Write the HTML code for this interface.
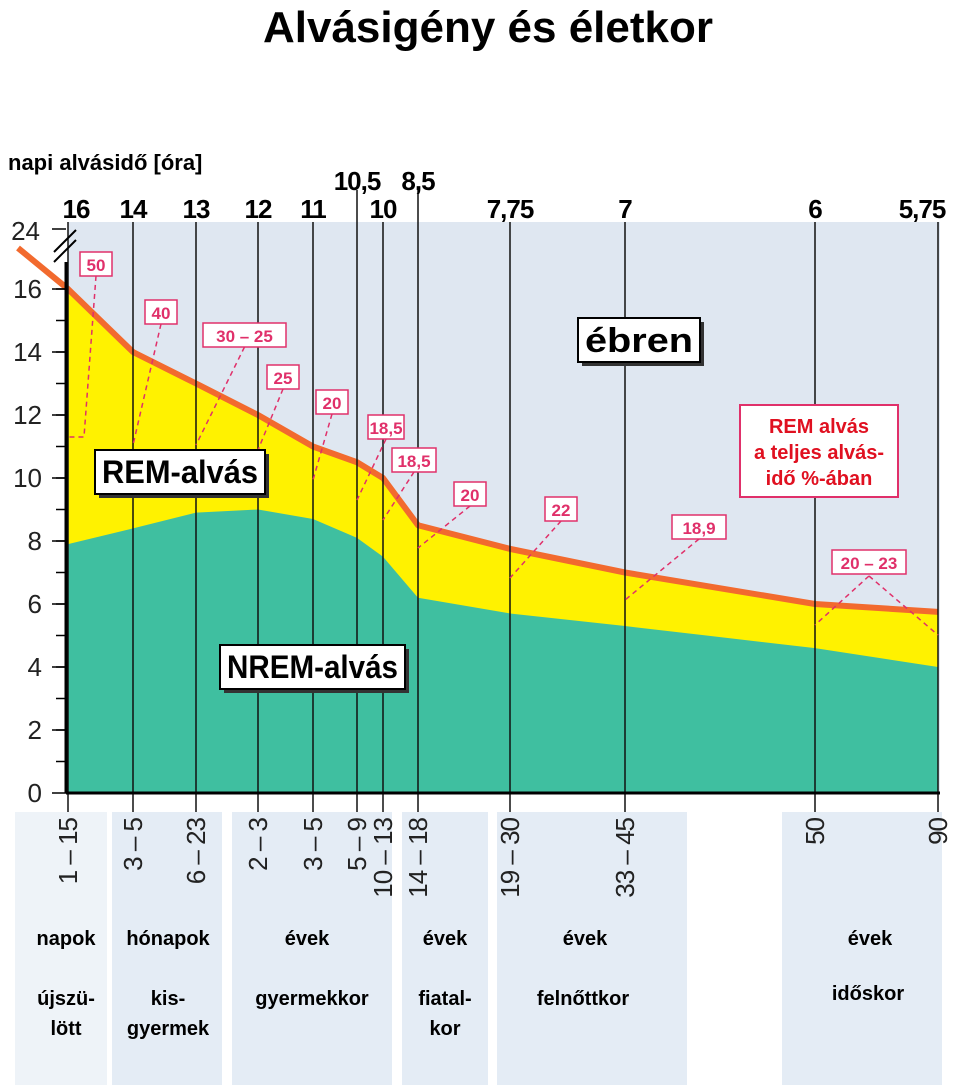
<!DOCTYPE html>
<html><head><meta charset="utf-8"><style>
body{margin:0;background:#fff;}
svg{display:block;font-family:"Liberation Sans",sans-serif;}
</style></head><body>
<svg id="chart" width="960" height="1092" viewBox="0 0 960 1092">
<text x="488" y="42" text-anchor="middle" font-size="44" font-weight="bold">Alvásigény és életkor</text>
<text x="8" y="170" font-size="22" font-weight="bold">napi alvásidő [óra]</text>
<rect x="68" y="222" width="872" height="572" fill="#dfe7f1"/>
<g>
<rect x="15" y="812" width="92" height="273" fill="#eef3f8"/>
<rect x="112" y="812" width="110" height="273" fill="#e4ecf5"/>
<rect x="232" y="812" width="160" height="273" fill="#e4ecf5"/>
<rect x="402" y="812" width="86" height="273" fill="#e4ecf5"/>
<rect x="497" y="812" width="190" height="273" fill="#e4ecf5"/>
<rect x="782" y="812" width="160" height="273" fill="#e4ecf5"/>
</g>
<g id="areas"></g>
<g id="vlines"></g>
<g id="yaxis"></g>
<g id="toplabels"></g>
<g id="xlabels"></g>
<g id="annot"></g>
<g font-size="20" font-weight="bold" text-anchor="middle">
<text x="66" y="945">napok</text><text x="168" y="945">hónapok</text><text x="307" y="945">évek</text><text x="445" y="945">évek</text><text x="585" y="945">évek</text><text x="870" y="945">évek</text>
<text x="66" y="1005">újszü-</text><text x="66" y="1035">lött</text>
<text x="168" y="1005">kis-</text><text x="168" y="1035">gyermek</text>
<text x="312" y="1005">gyermekkor</text>
<text x="445" y="1005">fiatal-</text><text x="445" y="1035">kor</text>
<text x="583" y="1005">felnőttkor</text>
<text x="868" y="1000">időskor</text>
</g>
<script>
const categories=["1 – 15","3 – 5","6 – 23","2 – 3","3 – 5","5 – 9","10 – 13","14 – 18","19 – 30","33 – 45","50","90"];
const totalSleep=[16,14,13,12,11,10.5,10,8.5,7.75,7,6,5.75];
const nremSleep=[7.9,8.4,8.9,9.0,8.7,8.1,7.5,6.2,5.7,5.3,4.6,4.0];
const topLabels=["16","14","13","12","11","10,5","10","8,5","7,75","7","6","5,75"];
const remPct=["50","40","30 – 25","25","20","18,5","18,5","20","22","18,9","20 – 23"];
const yTicks=[0,2,4,6,8,10,12,14,16];
const catX=[68,133,196,258,313,357,383,418,510,625,815,938];
const NS="http://www.w3.org/2000/svg";
function y(v){return 793-v*31.5;}
function x(i){return catX[i];}
function mk(p,t,a){const e=document.createElementNS(NS,t);for(const k in a)e.setAttribute(k,a[k]);p.appendChild(e);return e;}
const areas=document.getElementById('areas');
let tp="M"+x(0)+" "+y(0);categories.forEach((c,i)=>tp+=" L"+x(i)+" "+y(totalSleep[i]));tp+=" L"+x(11)+" "+y(0)+"Z";
const yel=mk(areas,'path',{d:tp,fill:'#fff200'});


let np="M"+x(0)+" "+y(0);categories.forEach((c,i)=>np+=" L"+x(i)+" "+y(nremSleep[i]));np+=" L"+x(11)+" "+y(0)+"Z";
const gr=mk(areas,'path',{d:np,fill:'#3fbfa0'});


const vl=document.getElementById('vlines');
categories.forEach((c,i)=>{const l=mk(vl,'line',{x1:x(i),x2:x(i),y1:i==5||i==7?190:222,y2:812,stroke:'#111','stroke-width':1.5});

});
let lp="M18 248 L"+x(0)+" "+y(totalSleep[0]);categories.forEach((c,i)=>lp+=" L"+x(i)+" "+y(totalSleep[i]));
const tl=mk(areas,'path',{d:lp,fill:'none',stroke:'#f26a2e','stroke-width':6,'stroke-linejoin':'round'});


const ya=document.getElementById('yaxis');
mk(ya,'line',{x1:66,x2:66,y1:y(0),y2:262,stroke:'#000','stroke-width':3});
mk(ya,'line',{x1:66,x2:940,y1:y(0),y2:y(0),stroke:'#000','stroke-width':3});
mk(ya,'line',{x1:52,x2:66,y1:229,y2:229,stroke:'#000','stroke-width':1.5});
mk(ya,'path',{d:"M54 262 L76 240 M54 252 L76 230",stroke:'#000','stroke-width':2});
const t24=mk(ya,'text',{x:40,y:240,'font-size':26,'text-anchor':'end',fill:'#222'});t24.textContent="24";
for(let v=1;v<=16;v++){mk(ya,'line',{x1:56,x2:66,y1:y(v),y2:y(v),stroke:'#000','stroke-width':1.5});}
yTicks.forEach(v=>{mk(ya,'line',{x1:52,x2:66,y1:y(v),y2:y(v),stroke:'#000','stroke-width':1.5});
const t=mk(ya,'text',{x:42,y:y(v)+9,'font-size':26,'text-anchor':'end',fill:'#222'});t.textContent=v;

});
const tg=document.getElementById('toplabels');
topLabels.forEach((s,i)=>{let xx=x(i)+(i==0?8:i==11?-16:0);const t=mk(tg,'text',{x:xx,y:i==5||i==7?190:218,'font-size':26,'font-weight':'bold','text-anchor':'middle','letter-spacing':'-1'});t.textContent=s;

});
const xg=document.getElementById('xlabels');
categories.forEach((s,i)=>{const t=mk(xg,'text',{transform:`translate(${x(i)+9},818) rotate(-90)`,'font-size':26,'text-anchor':'end',fill:'#222','letter-spacing':'-1'});t.textContent=s;

});
const an=document.getElementById('annot');
const boxes=[[80,252,32,[84,437]],[145,300,32,[133,445]],[203,323,83,[196,445]],[267,365,32,[258,450]],[316,390,32,[313,480]],[368,415,36,[357,500]],[392,448,44,[383,520]],[454,482,32,[418,548]],[545,497,32,[510,578]],[672,515,54,[625,600]],[832,550,74,[815,625]]];
boxes.forEach((b,i)=>{const cx=b[0]+b[2]/2;
if(i==10){mk(an,'path',{d:`M${cx} 576 L815 625 M${cx} 576 L938 635`,stroke:'#e0306a','stroke-width':1.5,'stroke-dasharray':'5 4',fill:'none'});}
else if(i==0){mk(an,'path',{d:`M${cx} 276 L84 437 L68 437`,stroke:'#e0306a','stroke-width':1.5,'stroke-dasharray':'5 4',fill:'none'});}
else mk(an,'line',{x1:cx,y1:b[1]+24,x2:b[3][0],y2:b[3][1],stroke:'#e0306a','stroke-width':1.5,'stroke-dasharray':'5 4'});
mk(an,'rect',{x:b[0],y:b[1],width:b[2],height:24,fill:'#fff',stroke:'#e0306a','stroke-width':1.5});
const t=mk(an,'text',{x:cx,y:b[1]+19,'font-size':17,'font-weight':'bold','text-anchor':'middle',fill:'#e0306a'});t.textContent=remPct[i];

});
function bigBox(x0,y0,w,h,txt,fs,name){mk(an,'rect',{x:x0+4,y:y0+4,width:w,height:h,fill:'#333'});mk(an,'rect',{x:x0,y:y0,width:w,height:h,fill:'#fff',stroke:'#000','stroke-width':2});
const t=mk(an,'text',{x:x0+w/2,y:y0+h/2+fs*0.35,'font-size':fs,'font-weight':'bold','text-anchor':'middle',textLength:w-14,lengthAdjust:'spacingAndGlyphs'});t.textContent=txt;

}
bigBox(578,318,122,44,"ébren",34,'awake-label');
bigBox(95,450,170,44,"REM-alvás",32,'rem-label');
bigBox(220,645,185,44,"NREM-alvás",32,'nrem-label');
mk(an,'rect',{x:740,y:405,width:158,height:92,fill:'#fff',stroke:'#e0306a','stroke-width':2});
["REM alvás","a teljes alvás-","idő %-ában"].forEach((s,i)=>{const t=mk(an,'text',{x:819,y:433+i*26,'font-size':20,'font-weight':'bold','text-anchor':'middle',fill:'#e01020'});t.textContent=s;

});
</script>
</svg>
</body></html>
